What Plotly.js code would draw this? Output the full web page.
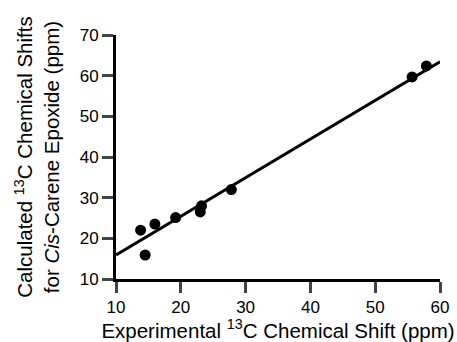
<!DOCTYPE html>
<html><head><meta charset="utf-8">
<script src="https://cdn.plot.ly/plotly-3.0.1.min.js"></script>
<style>html,body{margin:0;padding:0;background:#fff}</style>
</head><body>
<div id="chart" style="width:457px;height:342px"></div>
<script>
var expShift = [13.8, 14.5, 16.0, 19.2, 23.0, 23.2, 27.8, 55.7, 57.9];
var calcShift = [22.0, 15.9, 23.5, 25.1, 26.5, 28.0, 32.0, 59.7, 62.4];
var fitX = [10, 60];
var fitY = [15.9, 63.4];
var xTicks = [10, 20, 30, 40, 50, 60];
var yTicks = [10, 20, 30, 40, 50, 60, 70];

var tickFont = {family: 'Liberation Sans, Arial, sans-serif', size: 17, color: '#000'};
var titleFont = {family: 'Liberation Sans, Arial, sans-serif', size: 20.5, color: '#000'};
Plotly.newPlot('chart', [
  {x: fitX, y: fitY, mode: 'lines', line: {color: '#000', width: 3}, hoverinfo: 'skip'},
  {x: expShift, y: calcShift, mode: 'markers', marker: {color: '#000', size: 11}}
], {
  width: 457, height: 342,
  margin: {l: 116, r: 17, t: 35, b: 63},
  showlegend: false,
  font: tickFont,
  paper_bgcolor: '#fff', plot_bgcolor: '#fff',
  xaxis: {
    range: [10, 60], tickvals: xTicks, ticks: 'outside', ticklen: 11, tickwidth: 3,
    showline: true, linewidth: 3, linecolor: '#000', showgrid: false, zeroline: false,
    tickfont: tickFont,
    title: {text: 'Experimental <sup>13</sup>C Chemical Shift (ppm)', font: titleFont, standoff: 2}
  },
  yaxis: {
    range: [10, 70], tickvals: yTicks, ticks: 'outside', ticklen: 11, tickwidth: 3,
    showline: true, linewidth: 3, linecolor: '#000', showgrid: false, zeroline: false,
    tickfont: tickFont,
    title: {text: 'Calculated <sup>13</sup>C Chemical Shifts<br>for <i>Cis</i>-Carene Epoxide (ppm)', font: titleFont, standoff: 15}
  }
}, {displayModeBar: false, staticPlot: true});
</script>
</body></html>
